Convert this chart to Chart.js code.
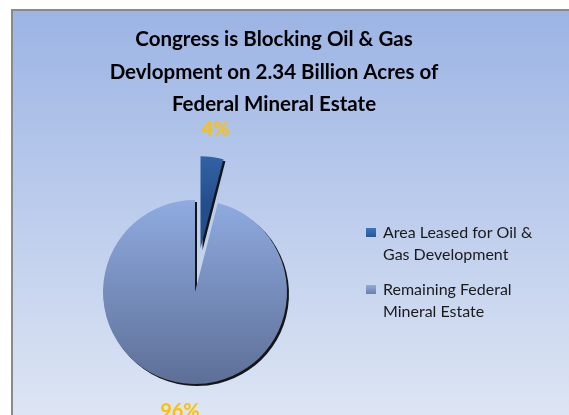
<!DOCTYPE html>
<html>
<head>
<meta charset="utf-8">
<script src="https://cdn.jsdelivr.net/npm/chart.js@4.4.1/dist/chart.umd.min.js"></script>
<style>
  html, body { margin: 0; padding: 0; background: #fff; }
  canvas { display: block; }
</style>
</head>
<body>
<canvas id="myChart" width="569" height="415"></canvas>
<script>
// chart data
const titleLines = ['Congress is Blocking Oil & Gas', 'Devlopment on 2.34 Billion Acres of', 'Federal Mineral Estate'];
const categories = ['Area Leased for Oil & Gas Development', 'Remaining Federal Mineral Estate'];
const legendLines = [['Area Leased for Oil &', 'Gas Development'], ['Remaining Federal', 'Mineral Estate']];
const shares = [4, 96];
const shareLabels = ['4%', '96%'];
const pullOut = [44, 0]; // exploded slice distance

// pie slice that can be pulled out of the pie without growing
class PulledArc extends Chart.ArcElement {
    draw(ctx) {
        const i = this.$context ? this.$context.dataIndex : 0;
        const d = pullOut[i] || 0;
        const mid = (this.startAngle + this.endAngle) / 2;
        ctx.save();
        ctx.translate(Math.cos(mid) * d, Math.sin(mid) * d);
        super.draw(ctx);
        ctx.restore();
    }
}
PulledArc.id = 'pulledArc';

class PulledPieController extends Chart.PieController {}
PulledPieController.id = 'pulledPie';
PulledPieController.defaults = { dataElementType: 'pulledArc' };

Chart.register(PulledArc, PulledPieController);

function sliceGradient(ctx, i) {
    const area = ctx.chart.chartArea;
    if (!area) return i === 0 ? '#3368ae' : '#7b93c6';
    const c = ctx.chart.ctx;
    const cy = (area.top + area.bottom) / 2;
    const r = Math.min(area.right - area.left, area.bottom - area.top) / 2;
    let g;
    if (i === 0) {
        g = c.createLinearGradient(0, cy - r - pullOut[0], 0, cy - pullOut[0]);
        g.addColorStop(0, '#3d75c0');
        g.addColorStop(1, '#244e8a');
    } else {
        g = c.createLinearGradient(0, cy - r, 0, cy + r);
        g.addColorStop(0, '#8fabe0');
        g.addColorStop(1, '#5d6f97');
    }
    return g;
}

const backdrop = {
    id: 'backdrop',
    beforeDraw(chart) {
        const c = chart.ctx;
        const W = chart.width, H = chart.height;
        c.save();
        c.fillStyle = '#ffffff';
        c.fillRect(0, 0, W, H);
        const g = c.createLinearGradient(0, 10, 0, H);
        g.addColorStop(0, '#9cb4e4');
        g.addColorStop(1, '#dde5f4');
        c.fillStyle = g;
        c.fillRect(11, 9, W - 11, H - 9);
        c.fillStyle = '#8a8a8a';
        c.fillRect(11, 9, W - 11, 2);
        c.fillRect(11, 9, 2, H - 9);
        c.restore();
    }
};

const shadow = {
    id: 'shadow',
    beforeDatasetsDraw(chart) {
        const c = chart.ctx;
        c.save();
        c.shadowColor = 'rgba(0,0,0,0.9)';
        c.shadowBlur = 0.5;
        c.shadowOffsetX = 2;
        c.shadowOffsetY = 2;
    },
    afterDatasetsDraw(chart) {
        chart.ctx.restore();
    }
};

const texts = {
    id: 'texts',
    afterDraw(chart) {
        const c = chart.ctx;
        c.save();

        // title
        c.fillStyle = '#000';
        c.textAlign = 'center';
        c.textBaseline = 'alphabetic';
        c.font = 'bold 20.5px Lato';
        titleLines.forEach((t, k) => c.fillText(t, 274, 46 + k * 32.5));

        // percentage labels
        const meta = chart.getDatasetMeta(0);
        c.fillStyle = '#ffc000';
        c.font = 'bold 20px Lato';
        c.textBaseline = 'middle';
        meta.data.forEach((arc, i) => {
            const p = arc.getProps(['x', 'y', 'startAngle', 'endAngle', 'outerRadius'], true);
            const mid = (p.startAngle + p.endAngle) / 2;
            const dist = p.outerRadius + pullOut[i] + 28;
            c.fillText(shareLabels[i], p.x + Math.cos(mid) * dist, p.y + Math.sin(mid) * dist);
        });

        // legend
        c.textAlign = 'left';
        c.textBaseline = 'alphabetic';
        c.font = '16px Lato';
        const boxColors = [['#3d75c0', '#2a5696'], ['#93acdc', '#6a7fa9']];
        legendLines.forEach((lines, i) => {
            const top = 228 + i * 57;
            const g = c.createLinearGradient(0, top, 0, top + 9);
            g.addColorStop(0, boxColors[i][0]);
            g.addColorStop(1, boxColors[i][1]);
            c.fillStyle = g;
            c.fillRect(366, top, 10, 9);
            c.fillStyle = '#1a1a1a';
            lines.forEach((t, k) => c.fillText(t, 383, top + 10 + k * 22));
        });
        c.restore();
    }
};

new Chart(document.getElementById('myChart'), {
    type: 'pulledPie',
    data: {
        labels: categories,
        datasets: [{
            data: shares,
            backgroundColor: (ctx) => sliceGradient(ctx, ctx.dataIndex),
            borderWidth: 0,
            hoverOffset: 0,
            clip: false
        }]
    },
    options: {
        responsive: false,
        animation: false,
        events: [],
        layout: { padding: { left: 103, top: 200, right: 282, bottom: 31 } },
        plugins: {
            legend: { display: false },
            title: { display: false },
            tooltip: { enabled: false }
        }
    },
    plugins: [backdrop, shadow, texts]
});
</script>
</body>
</html>
